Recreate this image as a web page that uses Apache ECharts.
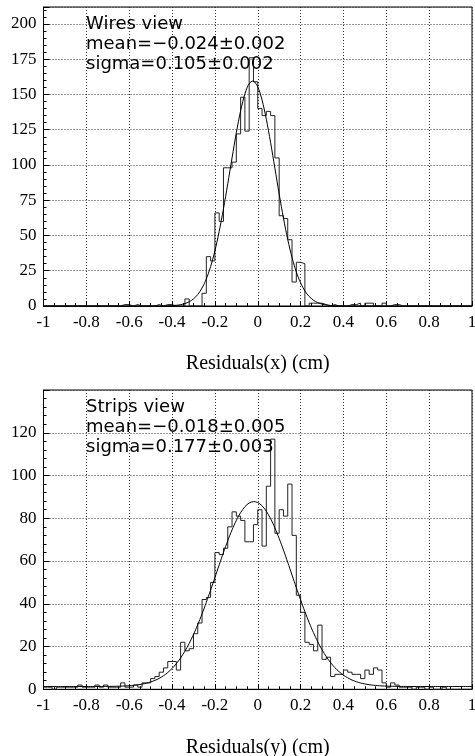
<!DOCTYPE html>
<html>
<head>
<meta charset="utf-8">
<script src="https://cdn.jsdelivr.net/npm/echarts@6/dist/echarts.min.js"></script>
<style>
html,body{margin:0;padding:0;background:#fff;}
#chart{width:475px;height:756px;}
</style>
</head>
<body>
<div id="chart"></div>
<script>
// Histogram binning: 100 bins of width 0.02 from -1 to 1
var binStart = -1;
var binWidth = 0.02;

// Wires view: counts per bin (left edge -1 + 0.02*i)
var countsX = [
  0,0,0,0,0,0,0,0,0,0,
  0,0,0,0,0,0,0,0,1,1,
  0,1,0,0,0,0,1,0,1,1,
  0,0,0,5,0,0,0,9,35,32,
  66,60,98,98,102,122,148,124,176,159,
  140,135,138,135,105,64,62,47,17,31,
  30,0,2,2,2,1,0,1,0,0,
  0,1,1,2,0,2,2,0,0,2,
  0,1,1,0,0,0,0,0,0,0,
  0,0,0,0,0,0,0,0,0,0
];

// Strips view: counts per bin
var countsY = [
  1,1,0,1,1,1,1,1,2,1,
  1,1,2,1,2,1,1,1,3,1,
  1,2,1,3,3,5,6,8,10,13,
  13,9,22,18,19,26,31,42,43,50,
  64,63,66,76,83,81,79,69,69,77,
  84,67,95,117,73,84,81,96,72,44,
  36,22,21,18,30,14,15,6,7,7,
  9,8,7,7,5,9,7,10,9,3,
  1,3,2,1,1,1,0,1,1,0,
  1,0,0,1,0,0,0,0,0,0
];

// Fit parameters [amplitude, mean, sigma, constant]
var fitParamsX = [159.5, -0.024, 0.105, 0];
var fitParamsY = [86.5, -0.018, 0.177, 1.3];

// Annotation texts
var textX = ['Wires view', 'mean=\u22120.024\u00b10.002', 'sigma=0.105\u00b10.002'];
var textY = ['Strips view', 'mean=\u22120.018\u00b10.005', 'sigma=0.177\u00b10.003'];

// Axis titles
var axisTitles = ['Residuals(x) (cm)', 'Residuals(y) (cm)'];

function histPoints(counts) {
  var pts = [];
  for (var i = 0; i < counts.length; i++) {
    pts.push([binStart + i * binWidth, counts[i]]);
  }
  pts.push([binStart + counts.length * binWidth, counts[counts.length - 1]]);
  return pts;
}
function fitPoints(p) {
  var pts = [];
  for (var k = 0; k <= 400; k++) {
    var x = -1 + k * 0.005;
    var z = (x - p[1]) / p[2];
    pts.push([x, p[0] * Math.exp(-0.5 * z * z) + p[3]]);
  }
  return pts;
}

var serif = '"Liberation Serif", "Times New Roman", serif';
var grid1Top = 7, grid1H = 299, grid2Top = 390, grid2H = 299.3;
var gLeft = 43.5, gW = 428.5;

function xAxisCfg(idx, title) {
  return {
    type: 'value', gridIndex: idx, min: -1, max: 1, interval: 0.2,
    name: title, nameLocation: 'middle', nameGap: 48,
    nameTextStyle: { fontFamily: serif, fontSize: 20, color: '#000' },
    axisLine: { show: true, onZero: false, lineStyle: { color: '#000', width: 1 } },
    axisTick: { show: true, inside: true, length: 5, lineStyle: { color: '#000' } },
    minorTick: { show: true, splitNumber: 4, length: 3, lineStyle: { color: '#000' } },
    splitLine: { show: true, lineStyle: { color: '#333', width: 1, type: [1, 2] } },
    axisLabel: { fontFamily: serif, fontSize: 17, color: '#000', margin: 8 }
  };
}
function yAxisCfg(idx, max, interval) {
  return {
    type: 'value', gridIndex: idx, min: 0, max: max, interval: interval,
    axisLine: { show: true, onZero: false, lineStyle: { color: '#000', width: 1 } },
    axisTick: { show: true, inside: true, length: 6, lineStyle: { color: '#000' } },
    minorTick: { show: true, splitNumber: 5, length: 3, lineStyle: { color: '#000' } },
    splitLine: { show: true, lineStyle: { color: '#333', width: 1, type: [1, 2] } },
    axisLabel: { fontFamily: serif, fontSize: 17, color: '#000', margin: 7, showMaxLabel: false }
  };
}
function textGraphics(lines, y0) {
  var out = [];
  for (var i = 0; i < lines.length; i++) {
    out.push({
      type: 'text', x: 86, y: y0 + i * 20, z: 100,
      style: { text: lines[i], font: '18px "DejaVu Sans", sans-serif', fill: '#000', verticalAlign: 'middle', align: 'left' }
    });
  }
  return out;
}

var chart = echarts.init(document.getElementById('chart'), null, { renderer: 'canvas' });
chart.setOption({
  animation: false,
  backgroundColor: '#fff',
  grid: [
    { left: gLeft, top: grid1Top, width: gW, height: grid1H, show: true, borderColor: '#000', borderWidth: 1, containLabel: false, outerBoundsMode: 'none' },
    { left: gLeft, top: grid2Top, width: gW, height: grid2H, show: true, borderColor: '#000', borderWidth: 1, containLabel: false, outerBoundsMode: 'none' }
  ],
  xAxis: [xAxisCfg(0, axisTitles[0]), xAxisCfg(1, axisTitles[1])],
  yAxis: [yAxisCfg(0, 212, 25), yAxisCfg(1, 140, 20)],
  series: [
    { type: 'line', xAxisIndex: 0, yAxisIndex: 0, step: 'end', data: histPoints(countsX), showSymbol: false, lineStyle: { color: '#222', width: 1 } },
    { type: 'line', xAxisIndex: 0, yAxisIndex: 0, data: fitPoints(fitParamsX), showSymbol: false, lineStyle: { color: '#000', width: 1 } },
    { type: 'line', xAxisIndex: 1, yAxisIndex: 1, step: 'end', data: histPoints(countsY), showSymbol: false, lineStyle: { color: '#222', width: 1 } },
    { type: 'line', xAxisIndex: 1, yAxisIndex: 1, data: fitPoints(fitParamsY), showSymbol: false, lineStyle: { color: '#000', width: 1 } }
  ],
  graphic: textGraphics(textX, 24).concat(textGraphics(textY, 407))
});
</script>
</body>
</html>
